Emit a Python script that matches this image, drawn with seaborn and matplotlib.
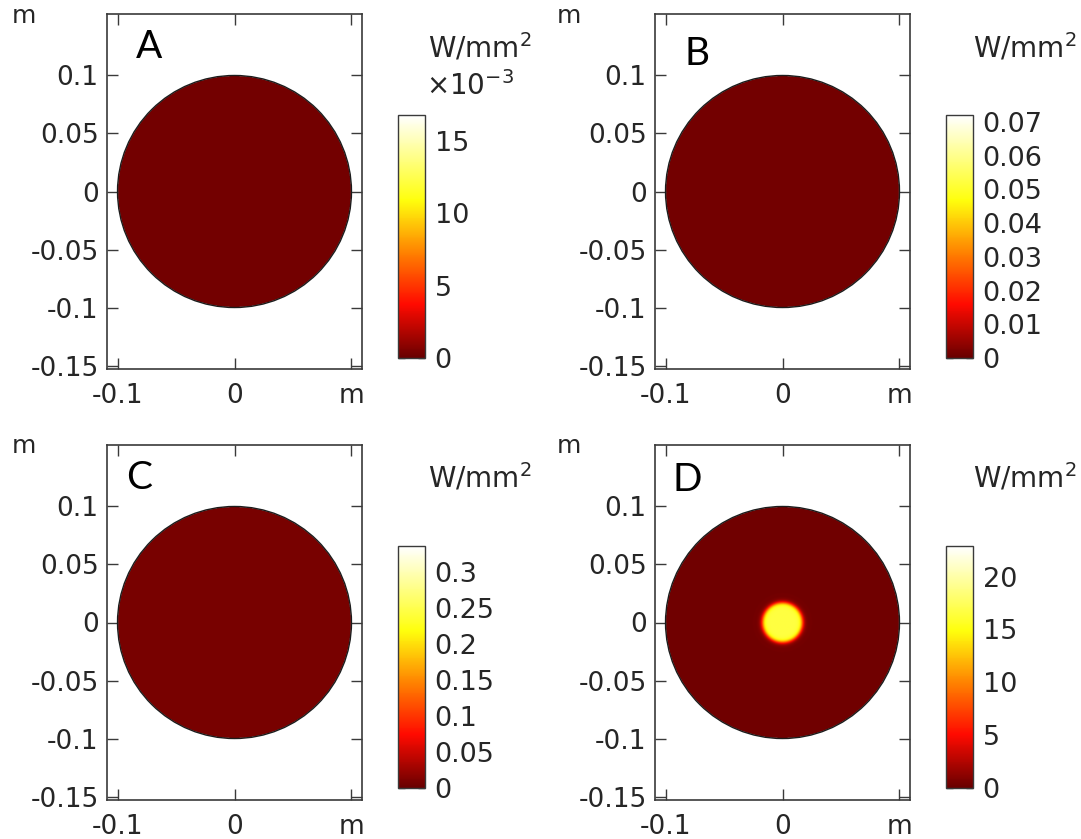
import numpy as np
import matplotlib
matplotlib.use("Agg")
import matplotlib.pyplot as plt
import seaborn as sns
from matplotlib.colors import LinearSegmentedColormap, Normalize
from matplotlib.patches import Circle

# ---------------- data ----------------
panel_letters = ["A", "B", "C", "D"]
domain_radius = 0.1                                   # m
background_flux = [0.0003, 0.0013, 0.009, 0.35]       # W/mm^2 inside the disc
color_min = [0.0, 0.0, 0.0, 0.0]
color_max = [0.0168, 0.0721, 0.336, 22.9]             # colour range max
spot_radius = [0.0, 0.0, 0.0, 0.0170]                 # m (hot spot, panel D)
spot_flux = [0.0, 0.0, 0.0, 16.6]                     # W/mm^2
spot_edge = [0.0, 0.0, 0.0, 0.0011]                   # m, edge softness

cbar_ticks = [
    [0.0, 0.005, 0.010, 0.015],
    [0.0, 0.01, 0.02, 0.03, 0.04, 0.05, 0.06, 0.07],
    [0.0, 0.05, 0.1, 0.15, 0.2, 0.25, 0.3],
    [0, 5, 10, 15, 20],
]
cbar_ticklabels = [
    ["0", "5", "10", "15"],
    ["0", "0.01", "0.02", "0.03", "0.04", "0.05", "0.06", "0.07"],
    ["0", "0.05", "0.1", "0.15", "0.2", "0.25", "0.3"],
    ["0", "5", "10", "15", "20"],
]
cbar_title = "W/mm$^2$"
cbar_scale = ["\u00d710$^{-3}$", "", "", ""]

x_ticks = [-0.1, 0.0, 0.1]
x_ticklabels = ["-0.1", "0", "m"]
y_ticks = [-0.15, -0.1, -0.05, 0.0, 0.05, 0.1]
y_ticklabels = ["-0.15", "-0.1", "-0.05", "0", "0.05", "0.1"]
y_unit = "m"
x_limits = (-0.109, 0.109)
y_limits = (-0.153, 0.153)

# ---------------- style ----------------
sns.set_theme(style="ticks")
plt.rcParams["font.family"] = ["DejaVu Sans"]
plt.rcParams["mathtext.fontset"] = "dejavusans"
TXT = "#262626"
SPINE = "#3a3a3a"

cmap = LinearSegmentedColormap.from_list(
    "thermal_light",
    [(0.0, (0.41, 0.0, 0.0)),
     (0.22, (1.0, 0.04, 0.0)),
     (0.43, (1.0, 0.5, 0.0)),
     (0.65, (1.0, 1.0, 0.05)),
     (1.0, (1.0, 1.0, 1.0))])
cmap.set_bad((1, 1, 1, 0))

W, H = 1081, 839
fig = plt.figure(figsize=(W / 100, H / 100), dpi=100)
fig.patch.set_facecolor("white")


def rect(x0, y0, x1, y1):
    return [x0 / W, 1 - y1 / H, (x1 - x0) / W, (y1 - y0) / H]


ax_px = [(107, 14, 362, 369), (655, 14, 910, 369),
         (107, 445, 362, 800), (655, 445, 910, 800)]
cb_px = [(398, 115, 425, 358), (946, 115, 973, 358),
         (398, 546, 425, 788), (946, 546, 973, 788)]
letter_pos = [(136, 58), (684, 65), (126, 489), (673, 491)]
yunit_pos = [(12, 23), (557, 23), (12, 453), (557, 453)]
title_pos = [(428, 57), (973, 57), (428, 487), (973, 487)]
scale_pos = [(426, 95), (971, 95), (426, 525), (971, 525)]

n = 900
gx = np.linspace(x_limits[0], x_limits[1], n)
gy = np.linspace(y_limits[0], y_limits[1], n)
XX, YY = np.meshgrid(gx, gy)
RR = np.hypot(XX, YY)

for i in range(4):
    ax = fig.add_axes(rect(*ax_px[i]))
    field = np.full_like(RR, background_flux[i])
    if spot_radius[i] > 0:
        field = field + (spot_flux[i] - background_flux[i]) / (
            1 + np.exp((RR - spot_radius[i]) / spot_edge[i]))
    field = np.ma.masked_where(RR > domain_radius, field)
    norm = Normalize(vmin=color_min[i], vmax=color_max[i])
    im = ax.imshow(field, origin="lower", cmap=cmap, norm=norm,
                   extent=[x_limits[0], x_limits[1], y_limits[0], y_limits[1]],
                   interpolation="bilinear", aspect="auto")
    ax.add_patch(Circle((0, 0), domain_radius, fill=False,
                        ec="#1c1c1c", lw=1.0))
    ax.set_xlim(*x_limits)
    ax.set_ylim(*y_limits)
    ax.set_xticks(x_ticks)
    ax.set_xticklabels(x_ticklabels)
    ax.set_yticks(y_ticks)
    ax.set_yticklabels(y_ticklabels)
    ax.tick_params(axis="both", direction="in", top=True, right=True,
                   length=8, width=1.0, color=SPINE, labelsize=19,
                   labelcolor=TXT)
    ax.tick_params(axis="x", pad=10)
    ax.tick_params(axis="y", pad=6)
    for sp in ax.spines.values():
        sp.set_color(SPINE)
        sp.set_linewidth(1.2)
    ax.grid(False)

    # colour bar
    cax = fig.add_axes(rect(*cb_px[i]))
    cb = fig.colorbar(im, cax=cax)
    cb.set_ticks(cbar_ticks[i], labels=cbar_ticklabels[i])
    cax.tick_params(direction="in", left=True, right=True, length=5,
                    width=1.0, color="#333333", labelsize=19.5,
                    labelcolor=TXT, pad=7)
    cb.outline.set_edgecolor(SPINE)
    cb.outline.set_linewidth(1.0)

    # texts
    fig.text(letter_pos[i][0] / W, 1 - letter_pos[i][1] / H, panel_letters[i],
             family="Lato", fontsize=28, color="black",
             ha="left", va="baseline")
    fig.text(yunit_pos[i][0] / W, 1 - yunit_pos[i][1] / H, y_unit,
             fontsize=18, color=TXT, ha="left", va="baseline")
    fig.text(title_pos[i][0] / W, 1 - title_pos[i][1] / H, cbar_title,
             fontsize=20, color=TXT, ha="left", va="baseline")
    if cbar_scale[i]:
        fig.text(scale_pos[i][0] / W, 1 - scale_pos[i][1] / H, cbar_scale[i],
                 fontsize=20, color=TXT, ha="left", va="baseline")

fig.savefig("out.png", dpi=100, facecolor="white")
